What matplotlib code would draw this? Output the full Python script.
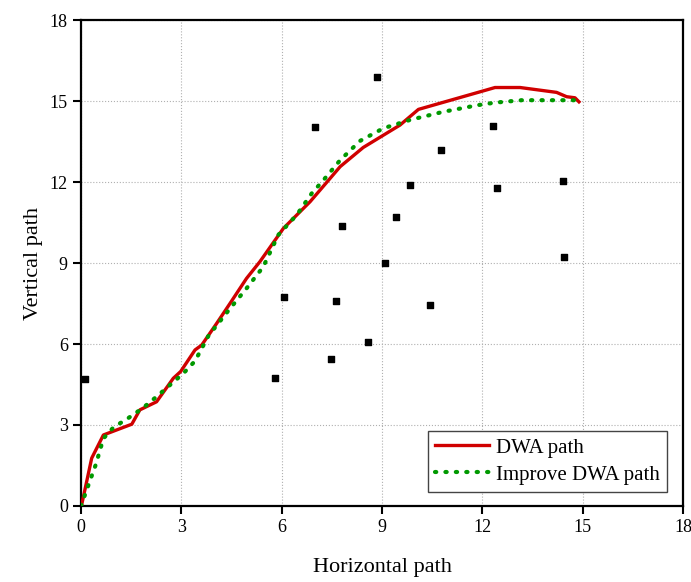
import matplotlib
matplotlib.use("Agg")
import matplotlib.pyplot as plt

plt.rcParams.update({
    "font.family": ["Liberation Serif", "DejaVu Serif"],
    "font.size": 13,
})

# obstacles
obs_x = [0.12, 8.85, 7.0, 12.32, 10.77, 9.84, 12.44, 14.41, 7.80, 9.42,
         9.09, 14.44, 6.07, 7.63, 10.44, 8.58, 7.48, 5.80]
obs_y = [4.70, 15.89, 14.04, 14.07, 13.19, 11.89, 11.78, 12.04, 10.37, 10.70,
         9.00, 9.22, 7.74, 7.59, 7.44, 6.07, 5.44, 4.74]

# DWA path
dwa_x = [0.02, 0.32, 0.67, 1.52, 1.76, 2.26, 2.76, 2.98, 3.41, 3.61, 4.05,
         4.46, 4.95, 5.35, 6.05, 6.85, 7.75, 8.44, 9.54, 10.09, 11.93,
         12.38, 13.13, 14.22, 14.52, 14.77, 14.89]
dwa_y = [0.04, 1.77, 2.63, 3.03, 3.56, 3.86, 4.73, 4.98, 5.78, 5.96, 6.75,
         7.51, 8.43, 9.05, 10.28, 11.27, 12.57, 13.28, 14.11, 14.69, 15.34,
         15.50, 15.50, 15.32, 15.16, 15.12, 14.97]

# improved DWA path
imp_x = [0.0, 0.27, 0.45, 0.67, 0.97, 1.42, 1.86, 2.26, 2.66, 3.06, 3.41,
         3.81, 4.46, 4.95, 5.45, 5.90, 6.45, 6.90, 7.25, 7.75, 8.34, 9.04,
         9.84, 10.83, 11.88, 12.38, 13.18, 14.22, 14.82]
imp_y = [0.0, 0.94, 1.56, 2.50, 2.91, 3.26, 3.64, 4.05, 4.48, 4.91, 5.37,
         6.30, 7.32, 8.06, 8.86, 10.04, 10.78, 11.58, 12.07, 12.81, 13.52,
         13.99, 14.30, 14.60, 14.85, 14.94, 15.03, 15.03, 15.03]

fig = plt.figure(figsize=(6.91, 5.82), dpi=100)
ax = fig.add_axes([0.1172, 0.1306, 0.8712, 0.835])

ax.scatter(obs_x, obs_y, marker="s", s=22, color="black", zorder=3)
ax.plot(dwa_x, dwa_y, color="#D00000", lw=2.4, label="DWA path", zorder=4)
ax.plot(imp_x, imp_y, color="#009900", lw=3, ls=(0, (0.3, 2.2)),
        dash_capstyle="round", label="Improve DWA path", zorder=5)

ax.set_xlim(0, 18)
ax.set_ylim(0, 18)
ax.set_xticks(range(0, 19, 3))
ax.set_yticks(range(0, 19, 3))
ax.tick_params(direction="out", length=6, width=1.5, labelsize=13,
               top=False, right=False)
for s in ax.spines.values():
    s.set_linewidth(1.6)
ax.grid(True, color="#b0b0b0", ls=":", lw=0.8)
ax.set_axisbelow(True)

ax.set_xlabel("Horizontal path", fontsize=16, labelpad=16)
ax.set_ylabel("Vertical path", fontsize=16, labelpad=5)

leg = ax.legend(loc="lower right", fontsize=15, fancybox=False,
                edgecolor="#444444", framealpha=1, borderpad=0.35,
                handlelength=2.6, handletextpad=0.3, labelspacing=0.35,
                borderaxespad=0, bbox_to_anchor=(0.973, 0.029))
leg.get_frame().set_linewidth(1.0)

fig.savefig("out.png", dpi=100)
